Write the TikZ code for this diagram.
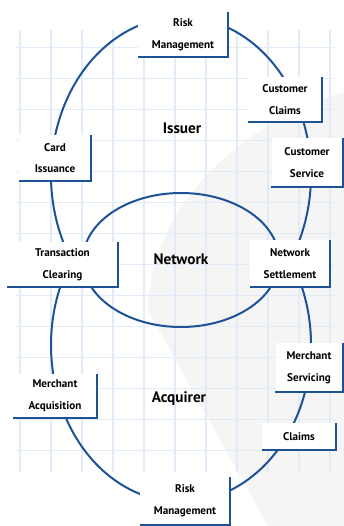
\documentclass[tikz,border=0pt]{standalone}
\usepackage{fontspec}
\setmainfont{PT Sans}
\definecolor{cyclineblue}{RGB}{30,82,150}
\definecolor{gridblue}{RGB}{226,235,248}
\def\boxedge(#1){\draw[line width=0.7mm, color=cyclineblue] (#1.north east) -- (#1.south east) -- (#1.south west);}
\tikzset{
	stage/.style={fill=white, inner sep=0pt, align=center, font=\fontsize{9.5}{18.5}\selectfont\bfseries},
	party/.style={font=\fontsize{13}{15}\selectfont\bfseries},
	ring/.style={line width=0.6mm, color=cyclineblue}
}
\begin{document}
\begin{tikzpicture}[x=0.03cm, y=-0.03cm]
			%%%%% START %%%%%
			
			\useasboundingbox (0,0) rectangle (344,526);
			\fill[white] (0,0) rectangle (344,526);
			
			\fill[black!4] (344,92) .. controls (250,120) and (150,200) .. (148,310) -- (268,526) -- (344,526) -- cycle;
			
			\foreach \gx in {20,51,...,330} \draw[gridblue, line width=0.4mm] (\gx,30) -- (\gx,472);
			\foreach \gy in {47,78,...,450} \draw[gridblue, line width=0.3mm] (15,\gy) -- (335,\gy);
			
			\draw[ring] (181,175) ++(150:130 and 158) arc[start angle=150, end angle=390, x radius=130, y radius=158];
			\draw[ring] (181,345) ++(-30:130 and 157) arc[start angle=-30, end angle=210, x radius=130, y radius=157];
			\draw[ring] (181,260) ellipse [x radius=98, y radius=67];
			
			\node[party] (issuer) at (182,128) {Issuer};
			\node[party] (network) at (181,259) {Network};
			\node[party] (acquirer) at (179,399) {Acquirer};
			
			\node[stage, minimum width=2.7cm, minimum height=1.35cm] (riskIss) at (183,34.5) {Risk\\Management};
			\node[stage, minimum width=2.22cm, minimum height=1.35cm] (custClaims) at (285,99.5) {Customer\\Claims};
			\node[stage, minimum width=2.16cm, minimum height=1.38cm] (cardIss) at (55,158) {Card\\Issuance};
			\node[stage, minimum width=2.13cm, minimum height=1.47cm] (custServ) at (307,162.5) {Customer\\Service};
			\node[stage, minimum width=3.33cm, minimum height=1.35cm] (transClear) at (62.5,264.5) {Transaction\\Clearing};
			\node[stage, minimum width=2.4cm, minimum height=1.41cm] (netSettle) at (290,263.5) {Network\\Settlement};
			\node[stage, minimum width=2.01cm, minimum height=1.47cm] (merchServ) at (309,367.5) {Merchant\\Servicing};
			\node[stage, minimum width=2.22cm, minimum height=0.81cm] (claims) at (299,436.5) {Claims};
			\node[stage, minimum width=2.52cm, minimum height=1.32cm] (merchAcq) at (55,396) {Merchant\\Acquisition};
			\node[stage, minimum width=2.7cm, minimum height=1.44cm] (riskAcq) at (185,501) {Risk\\Management};
			
			\boxedge(riskIss)
			\boxedge(custClaims)
			\boxedge(cardIss)
			\boxedge(custServ)
			\boxedge(transClear)
			\boxedge(netSettle)
			\boxedge(merchServ)
			\boxedge(claims)
			\boxedge(merchAcq)
			\boxedge(riskAcq)
			
			%%%%% END %%%%%
\end{tikzpicture}
\end{document}
